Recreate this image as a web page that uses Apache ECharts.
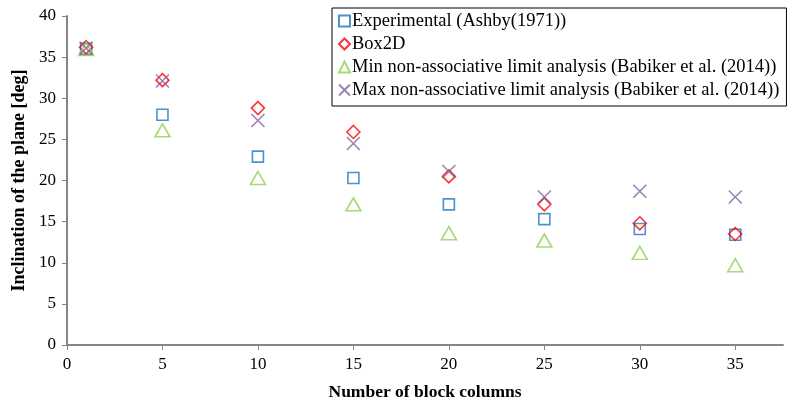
<!DOCTYPE html>
<html>
<head>
<meta charset="utf-8">
<script src="https://cdn.jsdelivr.net/npm/echarts@6/dist/echarts.min.js"></script>
<style>
  html, body { margin: 0; padding: 0; background: #fff; overflow: hidden; }
  #chart { width: 795px; height: 404px; }
</style>
</head>
<body>
<div id="chart"></div>
<script>
// Number of block columns (x positions)
const columns = [1, 5, 10, 15, 20, 25, 30, 35];

// Inclination of the plane [deg] for each data source
const experimental = [36.0, 28.0, 22.9, 20.3, 17.1, 15.3, 14.1, 13.4];
const box2d        = [36.2, 32.2, 28.8, 25.9, 20.5, 17.1, 14.8, 13.5];
const minLimit     = [36.0, 26.1, 20.3, 17.1, 13.6, 12.7, 11.2, 9.7];
const maxLimit     = [36.1, 32.1, 27.3, 24.5, 21.1, 18.0, 18.7, 18.0];

// Axis tick labels
const xTicks = [0, 5, 10, 15, 20, 25, 30, 35];
const yTicks = [0, 5, 10, 15, 20, 25, 30, 35, 40];

const seriesNames = [
  'Experimental (Ashby(1971))',
  'Box2D',
  'Min non-associative limit analysis (Babiker et al. (2014))',
  'Max non-associative limit analysis (Babiker et al. (2014))'
];

const pairs = ys => columns.map((x, i) => [x, ys[i]]);
const serif = '"Liberation Serif", "Times New Roman", serif';
const axisGray = '#868686';

function hollow(name, ys, symbol, size, color) {
  return {
    name: name,
    type: 'scatter',
    data: pairs(ys),
    symbol: symbol,
    symbolSize: size,
    itemStyle: { color: 'rgba(255,255,255,0)', borderColor: color, borderWidth: 1.6 },
    emphasis: { disabled: true }
  };
}

const chart = echarts.init(document.getElementById('chart'), null, { renderer: 'canvas' });
chart.setOption({
  animation: false,
  backgroundColor: '#fff',
  grid: { left: 67, top: 16, right: 12, bottom: 59, containLabel: false, outerBoundsMode: 'none' },
  legend: {
    left: 332,
    top: 8,
    orient: 'vertical',
    itemWidth: 11,
    itemHeight: 11,
    itemGap: 3,
    padding: [3, 7, 6, 6],
    borderColor: '#000',
    borderWidth: 1,
    backgroundColor: '#fff',
    textStyle: { fontFamily: serif, fontSize: 18.5, color: '#000', lineHeight: 20, padding: [0, 0, 0, -3] },
    data: seriesNames
  },
  xAxis: {
    type: 'value',
    min: 0,
    max: 37.5,
    interval: 5,
    name: 'Number of block columns',
    nameLocation: 'middle',
    nameGap: 38,
    nameTextStyle: { fontFamily: serif, fontSize: 17.5, fontWeight: 'bold', color: '#000' },
    axisLine: { show: true, onZero: false, lineStyle: { color: axisGray, width: 2 } },
    axisTick: { show: true, length: 5, lineStyle: { color: axisGray, width: 1 }, customValues: xTicks },
    axisLabel: { fontFamily: serif, fontSize: 17, color: '#000', margin: 11, customValues: xTicks },
    splitLine: { show: false }
  },
  yAxis: {
    type: 'value',
    min: 0,
    max: 40,
    interval: 5,
    name: 'Inclination of the plane [deg]',
    nameLocation: 'middle',
    nameGap: 38,
    nameRotate: 90,
    nameTextStyle: { fontFamily: serif, fontSize: 18, fontWeight: 'bold', color: '#000' },
    axisLine: { show: true, lineStyle: { color: axisGray, width: 2 } },
    axisTick: { show: true, length: 5, lineStyle: { color: axisGray, width: 1 }, customValues: yTicks },
    axisLabel: { fontFamily: serif, fontSize: 17, color: '#000', margin: 11, customValues: yTicks },
    splitLine: { show: false }
  },
  series: [
    hollow(seriesNames[0], experimental, 'rect', 11, '#1F74C4'),
    hollow(seriesNames[1], box2d, 'diamond', [13, 13], '#FF0000'),
    hollow(seriesNames[2], minLimit, 'triangle', [15, 13], '#92D050'),
    hollow(seriesNames[3], maxLimit, 'path://M0,0L10,10M10,0L0,10', 13, '#8064A2')
  ]
});
</script>
</body>
</html>
